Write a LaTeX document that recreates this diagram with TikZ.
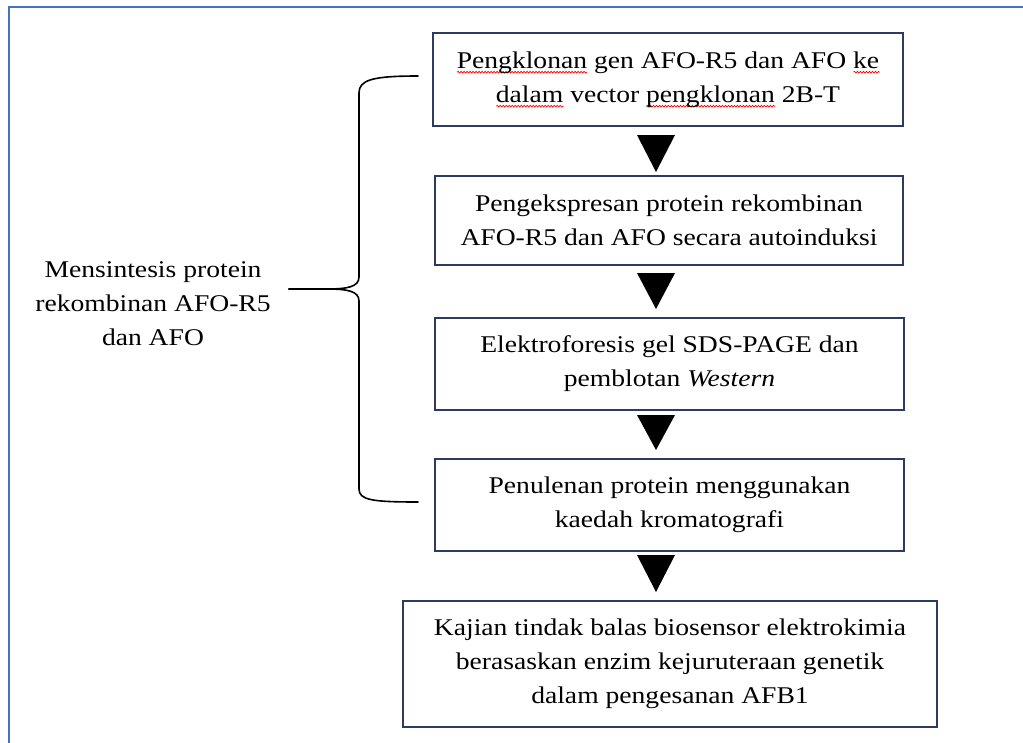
\documentclass[tikz,border=0pt]{standalone}
\usepackage{fontspec}
\setmainfont{Liberation Serif}[FakeStretch=1.15]
\usetikzlibrary{decorations.pathmorphing}
\definecolor{frameblue}{RGB}{68,114,196}
\definecolor{boxline}{RGB}{44,60,96}
\newsavebox{\spellbox}
\newcommand{\spell}[1]{\sbox{\spellbox}{#1}\leavevmode\rlap{\tikz[baseline=0pt]{\draw[red,line width=0.7pt,decorate,decoration={snake,amplitude=0.9pt,segment length=3pt}] (0pt,-4pt) -- (\wd\spellbox,-4pt);}}\usebox{\spellbox}}
\begin{document}
\begin{tikzpicture}[x=1pt,y=-1pt,
  every node/.style={font=\fontsize{24}{34}\selectfont},
  stepbox/.style={draw=boxline,line width=2pt,rectangle,align=center,inner sep=0pt},
  tri/.style={fill=black},
  bracepath/.style={line width=1.6pt,black,line cap=round}]
\useasboundingbox (0,0) rectangle (1023,742);
\draw[frameblue,line width=2.2pt] (9,745) -- (9,7) -- (1023,7);
% boxes
\node[stepbox,minimum width=470pt,minimum height=93pt] (b1) at (668,79.5)
  {\spell{Pengklonan} gen AFO-R5 dan AFO \spell{ke}\\\spell{dalam} vector \spell{pengklonan} 2B-T};
\node[stepbox,minimum width=468pt,minimum height=89pt] (b2) at (669,220.5)
  {Pengekspresan protein rekombinan\\AFO-R5 dan AFO secara autoinduksi};
\node[stepbox,minimum width=469pt,minimum height=92pt] (b3) at (669.5,364)
  {Elektroforesis gel SDS-PAGE dan\\pemblotan \textit{Western}};
\node[stepbox,minimum width=469pt,minimum height=92pt] (b4) at (669.5,505)
  {Penulenan protein menggunakan\\kaedah kromatografi};
\node[stepbox,minimum width=534pt,minimum height=126pt] (b5) at (670,664)
  {Kajian tindak balas biosensor elektrokimia\\berasaskan enzim kejuruteraan genetik\\dalam pengesanan AFB1};
\node[align=center,inner sep=0pt] (lbl) at (153,304)
  {Mensintesis protein\\rekombinan AFO-R5\\dan AFO};
% triangles
\foreach \ya/\yb in {135/172, 273/309, 415/450, 555/592}{
  \fill[tri] (637,\ya) -- (675,\ya) -- (656,\yb) -- cycle;
}
% brace
\coordinate (btop) at (418,76);
\coordinate (bbot) at (418,502);
\coordinate (btip) at (289,289);
\draw[bracepath] (btop) .. controls (372,76) and (359,80) .. (359,93)
  -- (359,277) .. controls (359,287) and (347,289) .. (327,289) -- (btip);
\draw[bracepath] (btip) -- (327,289) .. controls (347,289) and (359,291) .. (359,301)
  -- (359,489) .. controls (359,500) and (372,502) .. (bbot);
\end{tikzpicture}
\end{document}
